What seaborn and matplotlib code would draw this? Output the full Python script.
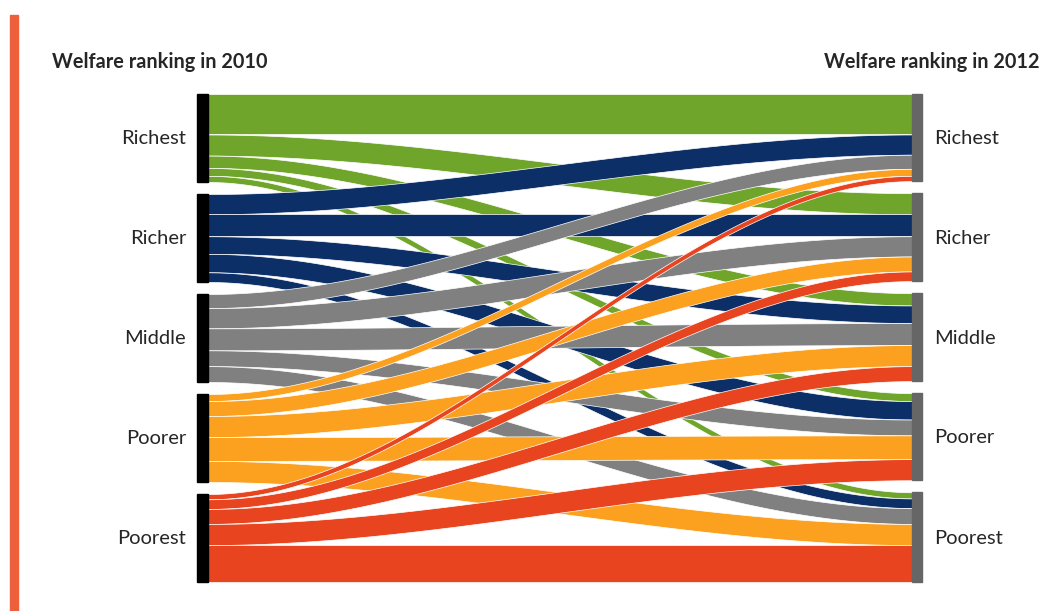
# Imports
import numpy as np
import seaborn as sns
import matplotlib.pyplot as plt
from matplotlib.patches import Rectangle


# Global parameters
GROUPS = ["Richest", "Richer", "Middle", "Poorer", "Poorest"]
COLORS = ["#6fa52a", "#0b2f66", "#808080", "#fba11f", "#e8441f"]
# share (%) of each 2010 group ending in each 2012 group
RICHEST = [46, 24, 14, 9, 7]
RICHER = [23, 25, 20, 21, 11]
MIDDLE = [16, 23, 25, 18, 18]
POORER = [8, 17, 24, 27, 24]
POOREST = [6, 11, 17, 24, 42]
TITLE_2010 = "Welfare ranking in 2010"
TITLE_2012 = "Welfare ranking in 2012"

flows = np.array([RICHEST, RICHER, MIDDLE, POORER, POOREST], dtype=float)
PX = 0.88      # pixels per percent
GAP = 12
TOP = 94
X0, X1 = 208, 912


# Node positions
def stack(sizes):
    tops, y = [], TOP
    for s in sizes:
        tops.append(y)
        y += s * PX + GAP
    return tops


left_tops = stack(flows.sum(axis=1))
right_tops = stack(flows.sum(axis=0))

sns.set_theme(style="white")
plt.rcParams["font.family"] = ["Lato", "DejaVu Sans"]
fig = plt.figure(figsize=(10.42, 6.11), dpi=100)
ax = fig.add_axes([0, 0, 1, 1])
ax.set_xlim(0, 1042)
ax.set_ylim(611, 0)
ax.axis("off")

# Flows
t = np.linspace(0, 1, 200)
s = 3 * t ** 2 - 2 * t ** 3
x = X0 + (X1 - X0) * t
right_off = [0.0] * 5
for i in range(5):
    left_off = 0.0
    for j in range(5):
        h = flows[i, j] * PX
        y0 = left_tops[i] + left_off
        y1 = right_tops[j] + right_off[j]
        upper = y0 + (y1 - y0) * s
        ax.fill_between(x, upper, upper + h, color=COLORS[i],
                        edgecolor="white", linewidth=0.5, zorder=2)
        left_off += h
        right_off[j] += h

# Node bars and labels
for k, name in enumerate(GROUPS):
    hl = flows[k].sum() * PX
    hr = flows[:, k].sum() * PX
    ax.add_patch(Rectangle((197, left_tops[k]), 11, hl, color="black",
                           zorder=3))
    ax.add_patch(Rectangle((912, right_tops[k]), 10, hr, color="#666666",
                           zorder=3))
    ax.text(186, left_tops[k] + hl / 2, name, ha="right", va="center",
            fontsize=14.5)
    ax.text(934, right_tops[k] + hr / 2 + 1, name, ha="left", va="center",
            fontsize=14.5)

ax.text(52, 62, TITLE_2010, ha="left", va="center", fontsize=14.3,
        fontweight="bold")
ax.text(1040, 62, TITLE_2012, ha="right", va="center", fontsize=14.3,
        fontweight="bold")

# Orange side bar
ax.add_patch(Rectangle((10, 15), 8, 600, color="#ee5f3c", zorder=3))

fig.savefig("out.png", dpi=100)
